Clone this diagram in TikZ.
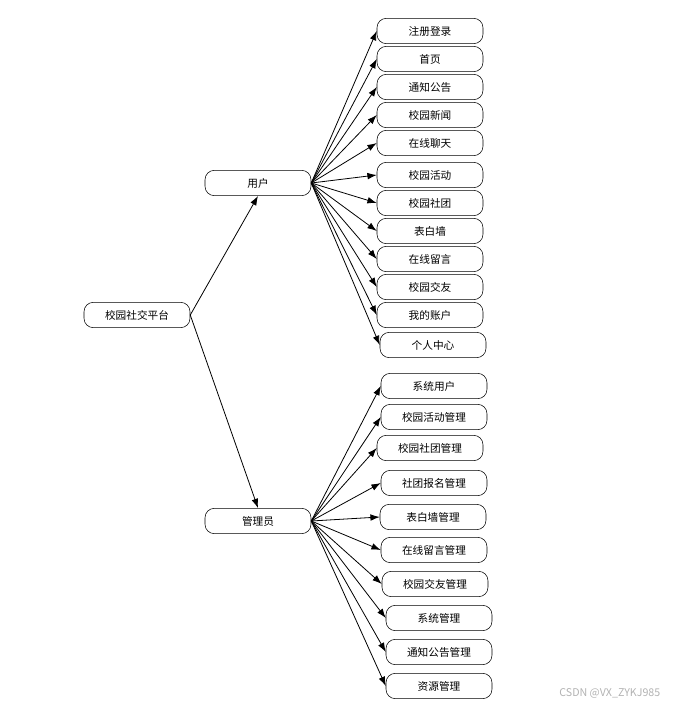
\documentclass[tikz,border=0pt]{standalone}
\usepackage{fontspec}
\setmainfont{Noto Sans CJK SC}
\usetikzlibrary{arrows.meta}
\tikzset{
  box/.style={draw, rounded corners=7pt, minimum width=79.5pt, minimum height=19pt, inner sep=0pt, font=\fontsize{8}{10}\selectfont},
  link/.style={-{Latex[length=7pt,width=5pt]}, line width=0.6pt}
}

\begin{document}
\begin{tikzpicture}[x=0.75pt,y=0.75pt,yscale=-1,xscale=1]
\useasboundingbox (0,0) rectangle (673,707);

% Root and second level
\node [box] (root) at (137,315) {校园社交平台};
\node [box] (user) at (258,183) {用户};
\node [box] (admin) at (258,521) {管理员};

% User functions
\node [box] (u1) at (430,31) {注册登录};
\node [box] (u2) at (430,59) {首页};
\node [box] (u3) at (430,87) {通知公告};
\node [box] (u4) at (430,115) {校园新闻};
\node [box] (u5) at (430,143) {在线聊天};
\node [box] (u6) at (430,175) {校园活动};
\node [box] (u7) at (430,203) {校园社团};
\node [box] (u8) at (430,231) {表白墙};
\node [box] (u9) at (430,259) {在线留言};
\node [box] (u10) at (430,287) {校园交友};
\node [box] (u11) at (430,315) {我的账户};
\node [box] (u12) at (433,345) {个人中心};

% Admin functions
\node [box] (a1) at (434,386) {系统用户};
\node [box] (a2) at (434,417) {校园活动管理};
\node [box] (a3) at (430,448) {校园社团管理};
\node [box] (a4) at (434,483) {社团报名管理};
\node [box] (a5) at (433,517) {表白墙管理};
\node [box] (a6) at (434,550) {在线留言管理};
\node [box] (a7) at (435,584) {校园交友管理};
\node [box] (a8) at (439,618) {系统管理};
\node [box] (a9) at (439,652) {通知公告管理};
\node [box] (a10) at (439,686) {资源管理};

% Arrows
\draw [link] (root.east) -- (user.south);
\draw [link] (root.east) -- (admin.north);

\draw [link] (user.east) -- (u1.west);
\draw [link] (user.east) -- (u2.west);
\draw [link] (user.east) -- (u3.west);
\draw [link] (user.east) -- (u4.west);
\draw [link] (user.east) -- (u5.west);
\draw [link] (user.east) -- (u6.west);
\draw [link] (user.east) -- (u7.west);
\draw [link] (user.east) -- (u8.west);
\draw [link] (user.east) -- (u9.west);
\draw [link] (user.east) -- (u10.west);
\draw [link] (user.east) -- (u11.west);
\draw [link] (user.east) -- (u12.west);

\draw [link] (admin.east) -- (a1.west);
\draw [link] (admin.east) -- (a2.west);
\draw [link] (admin.east) -- (a3.west);
\draw [link] (admin.east) -- (a4.west);
\draw [link] (admin.east) -- (a5.west);
\draw [link] (admin.east) -- (a6.west);
\draw [link] (admin.east) -- (a7.west);
\draw [link] (admin.east) -- (a8.west);
\draw [link] (admin.east) -- (a9.west);
\draw [link] (admin.east) -- (a10.west);

% Watermark
\node [anchor=east, text=black!30, font=\fontsize{8}{10}\selectfont] (mark) at (665,693) {CSDN @VX\_ZYKJ985};

\end{tikzpicture}
\end{document}
